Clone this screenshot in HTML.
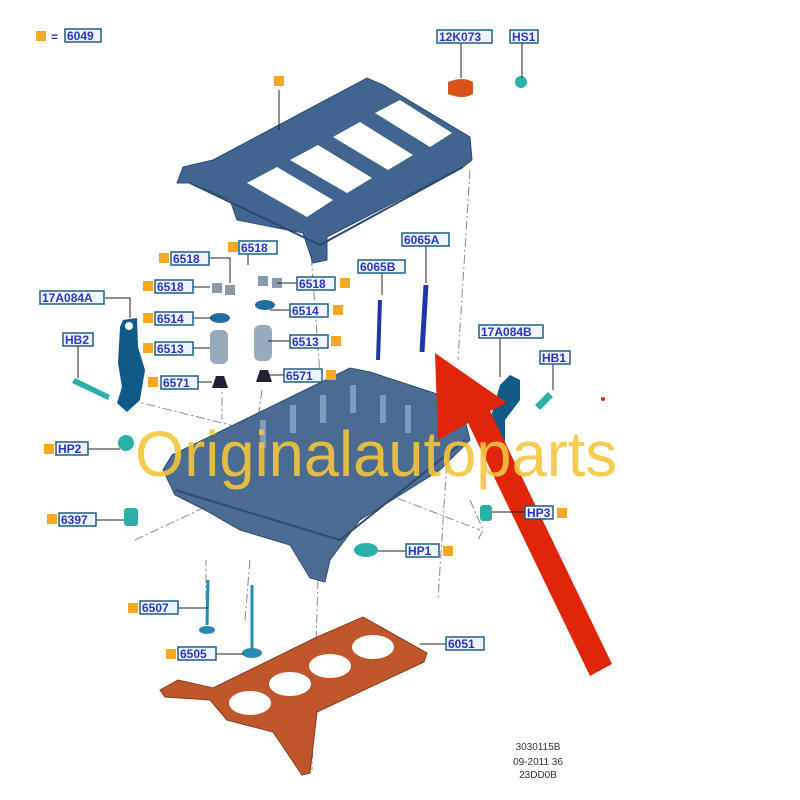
<!DOCTYPE html>
<html><head><meta charset="utf-8"><style>
html,body{margin:0;padding:0;background:#fff;}
svg{display:block}
.lb rect{fill:#eef3ff;stroke:#1f5f86;stroke-width:1.5}
.lb text{fill:#2637c4;font:bold 12px "Liberation Sans",sans-serif}
.sq{fill:#f7a823}
.ld{stroke:#222;stroke-width:1;fill:none}
.dd{stroke:#888;stroke-width:1;fill:none;stroke-dasharray:9 3 2 3}
</style></head><body>
<svg width="800" height="800" viewBox="0 0 800 800" xmlns="http://www.w3.org/2000/svg">
<rect width="800" height="800" fill="#fff"/>

<!-- dash-dot construction lines -->
<path class="dd" d="M470 170 L458 360 M452 380 L438 600"/>
<path class="dd" d="M310 240 L327 470 M318 580 L312 770"/>
<path class="dd" d="M130 400 L250 430 M470 500 L483 530 L478 540"/>
<path class="dd" d="M135 540 L220 500 M350 480 L480 530"/>
<path class="dd" d="M206 600 L206 560 M245 620 L250 560"/>
<path class="dd" d="M222 380 L222 420 M262 390 L255 440"/>

<!-- cam carrier -->
<polygon points="177,183 183,167 213,160 367,78 383,85 470,137 472,160 463,167 327,237 327,260 313,263 303,233 237,220 230,200 190,183" fill="#3f6590" stroke="#2a4a70" stroke-width="1"/>
<g fill="#fff">
<polygon points="247,183 277,167 333,200 307,217"/>
<polygon points="290,160 318,145 372,178 347,193"/>
<polygon points="333,137 360,122 413,155 388,170"/>
<polygon points="375,113 400,100 452,133 430,147"/>
</g>
<path d="M190 183 L320 245 L463 167" stroke="#2a4a70" fill="none" stroke-width="2"/>

<!-- cylinder head -->
<polygon points="163,470 172,455 350,368 370,372 440,395 465,420 470,440 440,470 360,520 330,560 325,582 310,578 290,545 240,530 205,510 175,495" fill="#4a6c92" stroke="#2e4d72"/>
<path d="M175 490 L340 540 L465 440" stroke="#2e4d72" stroke-width="2" fill="none"/>
<g fill="#7f9bbd">
<rect x="260" y="420" width="6" height="28"/><rect x="290" y="405" width="6" height="28"/><rect x="320" y="395" width="6" height="28"/><rect x="350" y="385" width="6" height="28"/><rect x="380" y="395" width="6" height="28"/><rect x="405" y="405" width="6" height="28"/>
</g>

<!-- gasket -->
<polygon points="160,690 178,680 213,688 317,637 363,617 427,653 424,662 317,712 310,773 302,775 273,732 227,720 210,700 165,697" fill="#c0562b" stroke="#8a3a18"/>
<g fill="#fff">
<ellipse cx="250" cy="703" rx="21" ry="12"/><ellipse cx="290" cy="684" rx="21" ry="12"/><ellipse cx="330" cy="666" rx="21" ry="12"/><ellipse cx="373" cy="647" rx="21" ry="12"/>
</g>

<!-- valve train parts -->
<g fill="#9ab">
<rect x="210" y="330" width="18" height="34" rx="6"/><rect x="254" y="325" width="18" height="36" rx="6"/>
</g>
<g fill="#1e6fa0"><ellipse cx="220" cy="318" rx="10" ry="5"/><ellipse cx="265" cy="305" rx="10" ry="5"/></g>
<g fill="#223"><path d="M212 388 l4-12 h8 l4 12z"/><path d="M256 382 l4-12 h8 l4 12z"/></g>
<g fill="#8a9aab"><rect x="212" y="283" width="10" height="10"/><rect x="225" y="285" width="10" height="10"/><rect x="258" y="276" width="10" height="10"/><rect x="272" y="278" width="10" height="10"/></g>
<!-- bolts 6065 -->
<path d="M380 300 L378 360" stroke="#2036a8" stroke-width="4"/><path d="M426 285 L422 352" stroke="#2036a8" stroke-width="5"/>
<!-- valves -->
<path d="M208 580 L207 625 M252 585 L252 650" stroke="#2a8ab0" stroke-width="3"/>
<ellipse cx="207" cy="630" rx="8" ry="4" fill="#2a8ab0"/><ellipse cx="252" cy="653" rx="10" ry="5" fill="#2a8ab0"/>
<!-- brackets -->
<polygon points="123,320 137,318 138,347 145,370 140,400 127,412 117,403 122,387 118,363 120,327" fill="#0f5a86"/>
<circle cx="129" cy="326" r="4" fill="#fff"/>
<polygon points="510,375 520,380 520,400 505,420 505,460 490,460 490,420 500,385" fill="#0f5a86"/>
<!-- teal plugs -->
<g fill="#2ab0a8">
<circle cx="126" cy="443" r="8"/><rect x="124" y="508" width="14" height="18" rx="3"/><rect x="480" y="505" width="12" height="16" rx="3"/><ellipse cx="366" cy="550" rx="12" ry="7"/>
<path d="M75 378 L110 395 L108 400 L72 383z"/><path d="M548 392 L535 405 L540 410 L553 397z"/><circle cx="521" cy="82" r="6"/>
</g>
<path d="M448 82 q15-6 25 0 v12 q-10 6-25 0z" fill="#d9541a"/>

<!-- red arrow -->
<polygon points="435,353 438,440 468,423 590,676 612,664 490,411 507,403" fill="#e0260a"/>
<circle cx="603" cy="399" r="2" fill="#e0260a"/>

<!-- watermark -->
<text x="135" y="476" font-family="Liberation Sans,sans-serif" font-size="64" fill="#f5c53c" fill-opacity="0.9" textLength="482" lengthAdjust="spacingAndGlyphs">Originalautoparts</text>

<!-- leader lines -->
<path class="ld" d="M461 37 V78 M522 43 V78 M279 90 V130 M206 258 H230 V283 M248 247 V265 M192 287 H210 M297 283 H277 M192 318 H212 M290 310 H270 M192 348 H210 M290 341 H268 M197 382 H212 M285 375 H266 M105 298 H130 V318 M78 346 V378 M88 449 H120 M96 520 H124 M525 512 H492 M406 551 H378 M178 608 H208 M216 654 H244 M446 644 H420 M500 338 V377 M553 363 V390 M382 273 V295 M426 246 V283"/>

<!-- labels -->
<g class="sq">
<rect x="36" y="31" width="10" height="10"/><rect x="274" y="76" width="10" height="10"/>
<rect x="159" y="253" width="10" height="10"/><rect x="228" y="242" width="10" height="10"/><rect x="143" y="281" width="10" height="10"/><rect x="340" y="278" width="10" height="10"/>
<rect x="143" y="313" width="10" height="10"/><rect x="333" y="305" width="10" height="10"/><rect x="143" y="343" width="10" height="10"/><rect x="331" y="336" width="10" height="10"/>
<rect x="148" y="377" width="10" height="10"/><rect x="326" y="370" width="10" height="10"/>
<rect x="44" y="444" width="10" height="10"/><rect x="47" y="514" width="10" height="10"/><rect x="557" y="508" width="10" height="10"/><rect x="443" y="546" width="10" height="10"/>
<rect x="128" y="603" width="10" height="10"/><rect x="166" y="649" width="10" height="10"/>
</g>
<text x="51" y="41" font-family="Liberation Sans,sans-serif" font-size="12" fill="#2637c4" font-weight="bold">=</text>
<g class="lb">
<rect x="65" y="29" width="36" height="13"/><text x="67" y="40">6049</text>
<rect x="437" y="30" width="55" height="13"/><text x="439" y="41">12K073</text>
<rect x="510" y="30" width="28" height="13"/><text x="512" y="41">HS1</text>
<rect x="171" y="252" width="38" height="13"/><text x="173" y="263">6518</text>
<rect x="239" y="241" width="38" height="13"/><text x="241" y="252">6518</text>
<rect x="155" y="280" width="38" height="13"/><text x="157" y="291">6518</text>
<rect x="297" y="277" width="38" height="13"/><text x="299" y="288">6518</text>
<rect x="155" y="312" width="38" height="13"/><text x="157" y="323">6514</text>
<rect x="290" y="304" width="38" height="13"/><text x="292" y="315">6514</text>
<rect x="155" y="342" width="38" height="13"/><text x="157" y="353">6513</text>
<rect x="290" y="335" width="38" height="13"/><text x="292" y="346">6513</text>
<rect x="161" y="376" width="37" height="13"/><text x="163" y="387">6571</text>
<rect x="284" y="369" width="38" height="13"/><text x="286" y="380">6571</text>
<rect x="40" y="291" width="64" height="13"/><text x="42" y="302">17A084A</text>
<rect x="63" y="333" width="30" height="13"/><text x="65" y="344">HB2</text>
<rect x="358" y="260" width="47" height="13"/><text x="360" y="271">6065B</text>
<rect x="402" y="233" width="47" height="13"/><text x="404" y="244">6065A</text>
<rect x="479" y="325" width="64" height="13"/><text x="481" y="336">17A084B</text>
<rect x="540" y="351" width="30" height="13"/><text x="542" y="362">HB1</text>
<rect x="56" y="442" width="32" height="13"/><text x="58" y="453">HP2</text>
<rect x="59" y="513" width="37" height="13"/><text x="61" y="524">6397</text>
<rect x="525" y="506" width="28" height="13"/><text x="527" y="517">HP3</text>
<rect x="406" y="544" width="33" height="13"/><text x="408" y="555">HP1</text>
<rect x="140" y="601" width="38" height="13"/><text x="142" y="612">6507</text>
<rect x="178" y="647" width="38" height="13"/><text x="180" y="658">6505</text>
<rect x="446" y="637" width="38" height="13"/><text x="448" y="648">6051</text>
</g>
<g font-family="Liberation Sans,sans-serif" font-size="10" fill="#333" text-anchor="middle">
<text x="538" y="750">3030115B</text><text x="538" y="765">09-2011 36</text><text x="538" y="778">23DD0B</text>
</g>
</svg>
</body></html>
